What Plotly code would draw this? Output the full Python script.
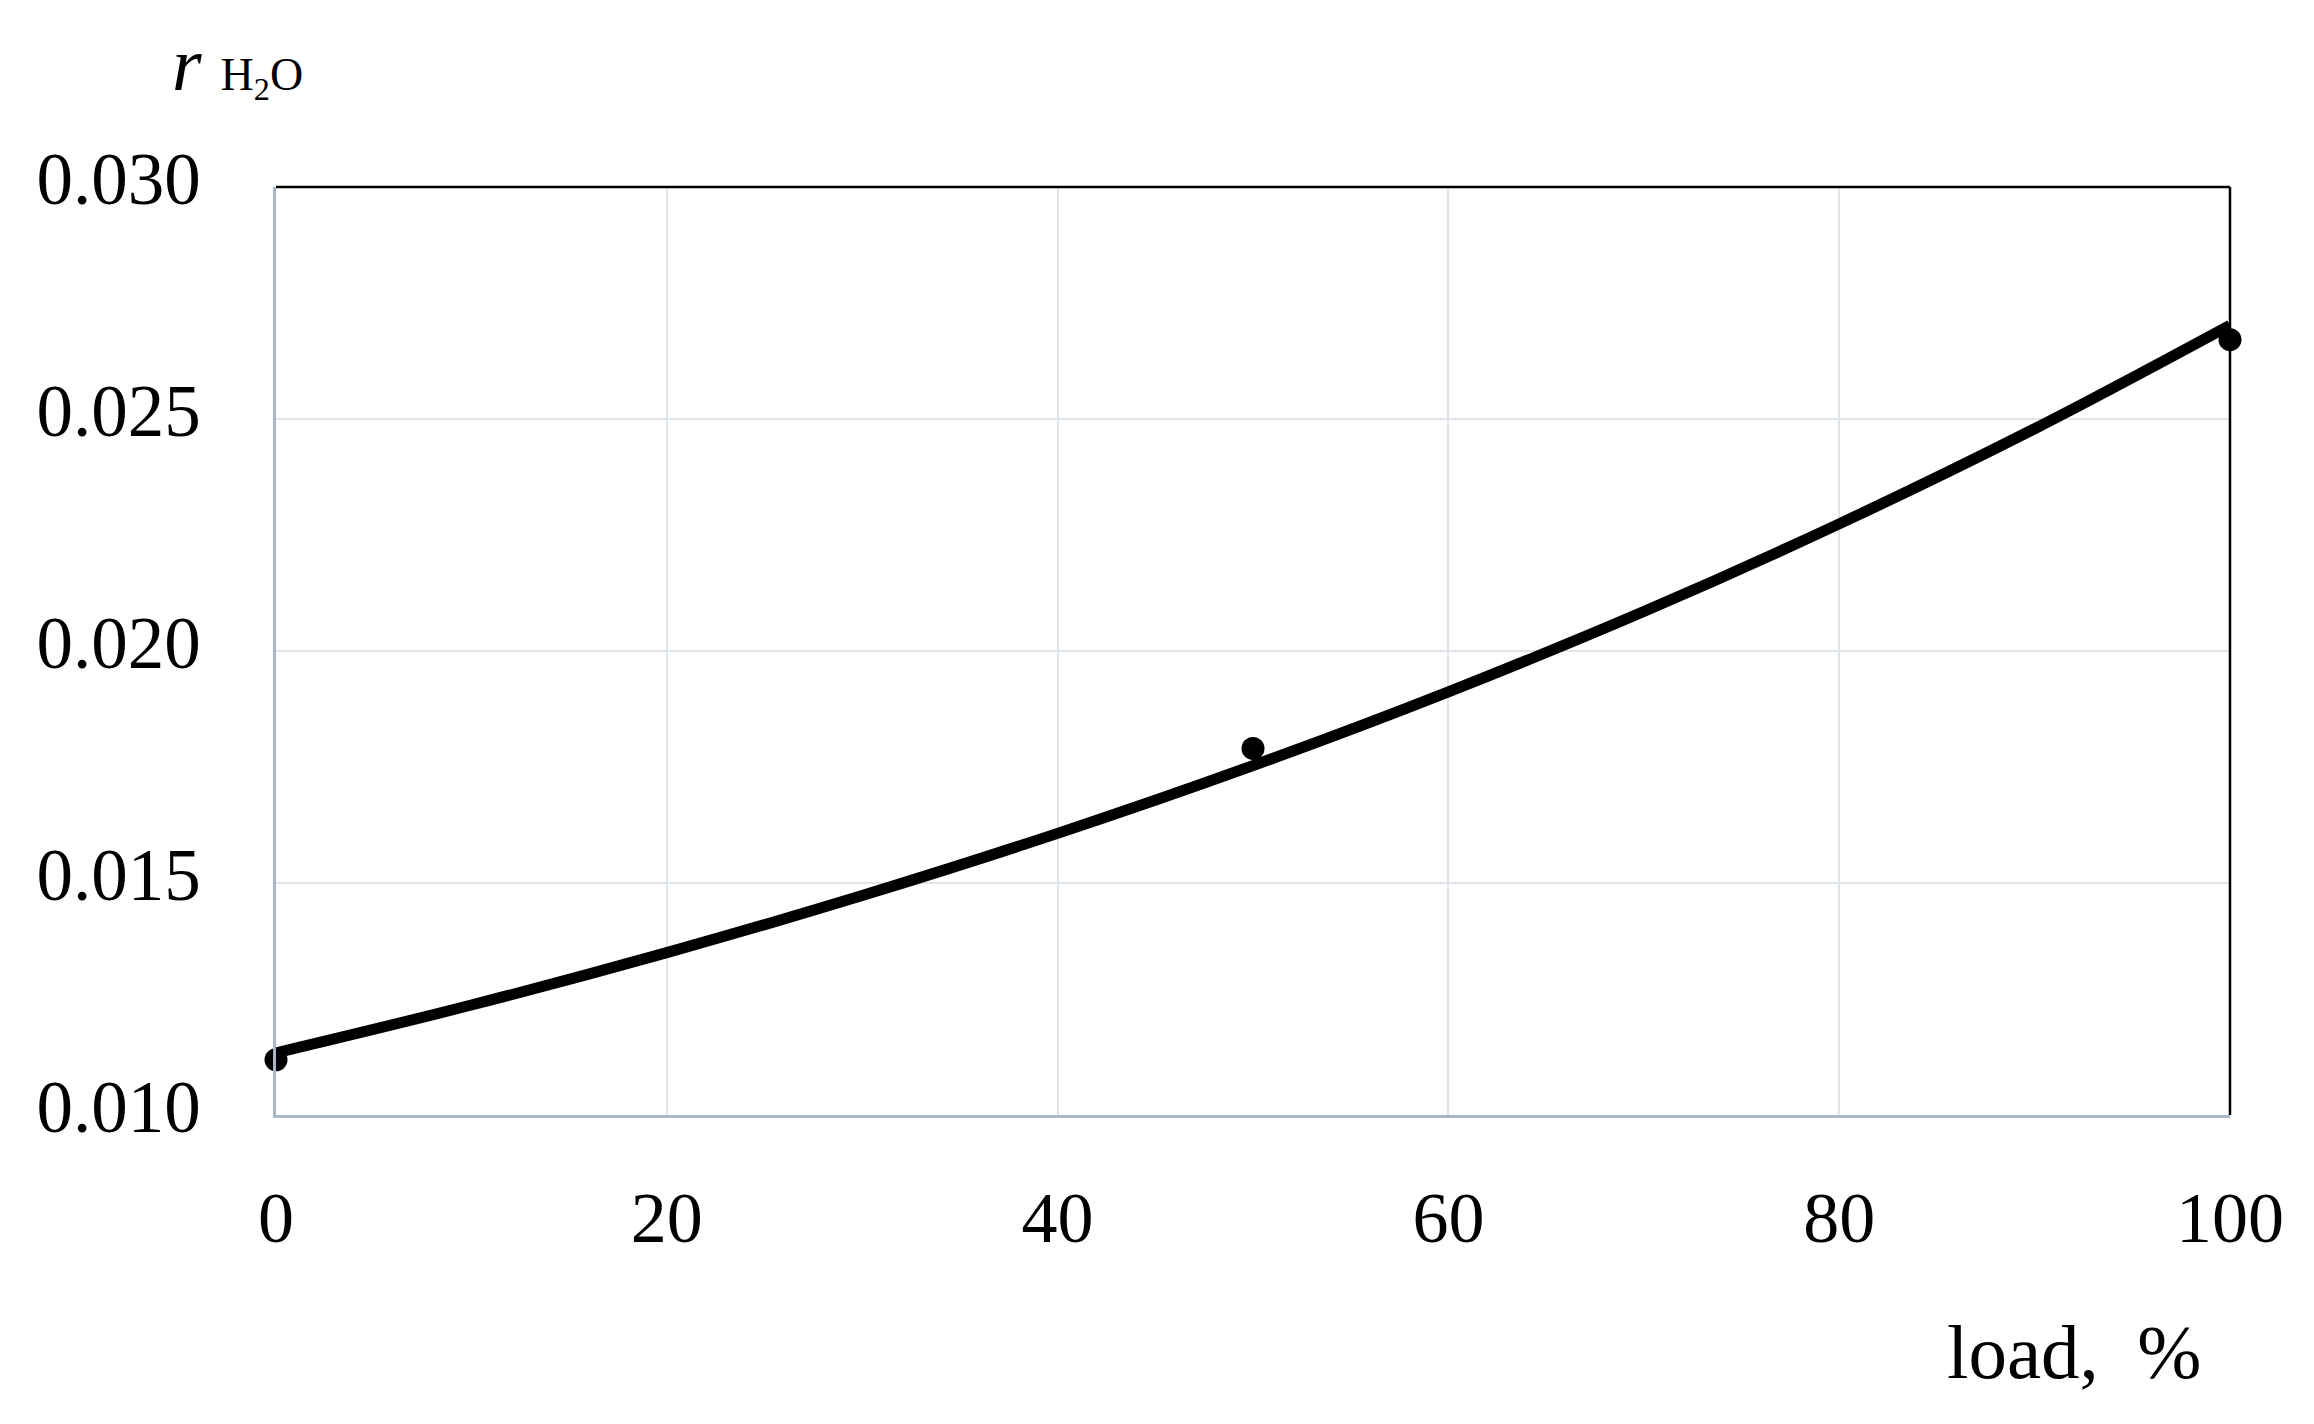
import plotly.graph_objects as go

# data
load_pts = [0, 50, 100]
r_pts = [0.01119, 0.01790, 0.02671]

load_fit = [0, 10, 20, 30, 40, 50, 60, 70, 80, 90, 100]
r_fit = [0.01134, 0.01237, 0.01350, 0.01473, 0.01607, 0.01753, 0.01912, 0.02085, 0.02274, 0.02479, 0.02702]

x_ticks = [0, 20, 40, 60, 80, 100]
y_ticks = [0.010, 0.015, 0.020, 0.025, 0.030]

W, H = 2314, 1424
OFF = 8  # page body margin
L, R, T, B = 276, 2230, 187, 1115  # plot area in page pixels

def px_x(p):
    return (p - L) / (R - L)

def px_y(p):
    return (B - p) / (B - T)

FONT = "Liberation Serif"

fig = go.Figure()
fig.add_trace(go.Scatter(
    x=load_fit, y=r_fit, mode="lines",
    line=dict(color="black", width=11, shape="spline", smoothing=1.0),
    cliponaxis=False, showlegend=False, hoverinfo="skip"))
fig.add_trace(go.Scatter(
    x=load_pts, y=r_pts, mode="markers",
    marker=dict(color="black", size=23),
    cliponaxis=False, showlegend=False))

fig.update_layout(
    width=W, height=H,
    margin=dict(l=L - OFF, r=W - (R - OFF), t=T - OFF, b=H - (B - OFF), pad=0),
    paper_bgcolor="white", plot_bgcolor="white",
    font=dict(family=FONT, color="black", size=72),
    xaxis=dict(range=[0, 100], tickvals=x_ticks, ticktext=[str(v) for v in x_ticks],
               showgrid=True, gridcolor="#dfe4ea", gridwidth=2,
               showline=True, linecolor="#a9b7cb", linewidth=2.5,
               zeroline=False, ticks="", ticklabelstandoff=38,
               tickfont=dict(family=FONT, size=72, color="black")),
    yaxis=dict(range=[0.010, 0.030], tickvals=y_ticks,
               ticktext=["%.3f" % v for v in y_ticks],
               showgrid=True, gridcolor="#dfe4ea", gridwidth=2,
               showline=True, linecolor="#a9b7cb", linewidth=2.5,
               zeroline=False, ticks="", ticklabelstandoff=58,
               ticklabelshift=-9,
               tickfont=dict(family=FONT, size=73, color="black")),
    shapes=[
        dict(type="line", xref="paper", yref="paper", x0=0, x1=1, y0=1, y1=1,
             line=dict(color="black", width=2.5)),
        dict(type="line", xref="paper", yref="paper", x0=1, x1=1, y0=0, y1=1,
             line=dict(color="black", width=2.5)),
    ],
    annotations=[
        dict(text="load,&nbsp; %", xref="paper", yref="paper",
             x=px_x(1945), y=px_y(1352), xanchor="left", yanchor="middle",
             showarrow=False, font=dict(family=FONT, size=77, color="black")),
        dict(text="<i>r</i> <span style='font-size:46px'>H<sub>2</sub>O</span>",
             xref="paper", yref="paper",
             x=px_x(170), y=px_y(64), xanchor="left", yanchor="middle",
             showarrow=False, font=dict(family=FONT, size=76, color="black")),
    ],
)

fig.write_html("out.html")
